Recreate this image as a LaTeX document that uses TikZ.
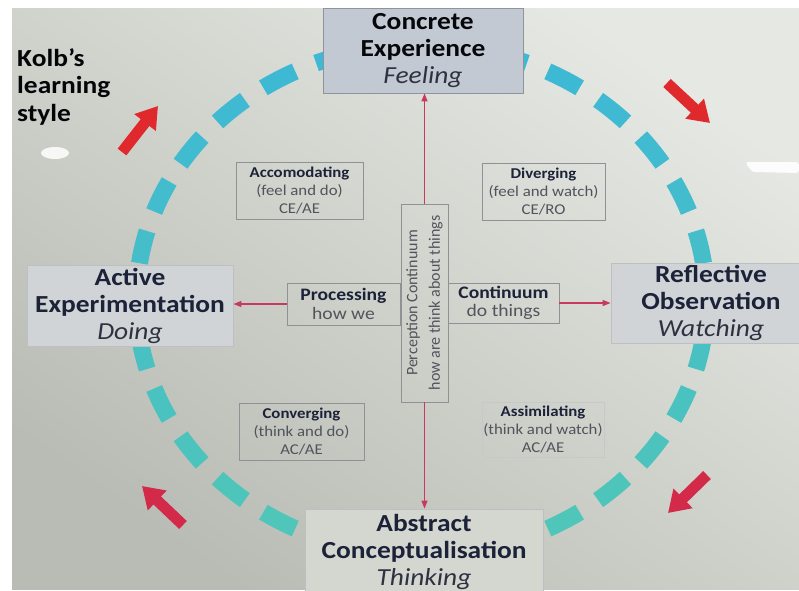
\documentclass[tikz,border=0pt]{standalone}
\usepackage{fontspec}
\setmainfont{Carlito}[FakeStretch=1.12]
\newfontfamily\uprightfont{Carlito}
\usetikzlibrary{arrows.meta}

\definecolor{bgtop}{HTML}{E6E8E3}
\definecolor{bgbot}{HTML}{B9BCB4}
\definecolor{ringcyan}{HTML}{3DB8D6}
\definecolor{ringteal}{HTML}{50C7B7}
\definecolor{linkred}{HTML}{C73A5D}
\definecolor{arrowred}{HTML}{E0292C}
\definecolor{arrowcrimson}{HTML}{D42A4A}
\definecolor{navy}{HTML}{1C2238}
\definecolor{ink}{HTML}{2E3240}
\definecolor{softink}{HTML}{50545C}
\definecolor{cefill}{HTML}{C3C9D2}
\definecolor{cedraw}{HTML}{8E949C}
\definecolor{sidefill}{HTML}{D0D4D7}
\definecolor{sidedraw}{HTML}{BCC0C3}
\definecolor{boxline}{HTML}{8E9295}

\newcommand\kolbital[1]{{\mdseries\itshape\color{ink}#1}}
\newcommand\kolbhead[1]{{\bfseries\color{navy}#1}}

\begin{document}
\begin{tikzpicture}[x=1pt,y=-1pt,
  stage/.style={draw=sidedraw, fill=sidefill, line width=0.8pt, text=navy,
    align=center, inner sep=0pt, font=\bfseries\fontsize{24.5}{27}\selectfont},
  mode/.style={draw=boxline, line width=0.8pt, align=center, text=softink,
    inner sep=0pt, font=\fontsize{15}{18}\selectfont},
  flow/.style={draw=boxline, line width=0.8pt, align=center, text=softink,
    inner sep=0pt, font=\fontsize{17.5}{18.5}\selectfont},
  link/.style={draw=linkred, line width=1.3pt, -{Triangle[length=8pt 0 0,width=6pt 0 0]}},
  turn/.style={line width=11pt, -{Triangle[length=21pt 0 0,width=26pt 0 0]}},
  ring/.style={line width=17pt, line cap=butt},
]
\useasboundingbox (0,0) rectangle (799,590);
\fill[white] (0,0) rectangle (799,590);
\shade[top color=bgtop, bottom color=bgbot, shading angle=-35] (12,8) rectangle (799,589);

% screen glare
\fill[white, opacity=0.85] (55,153) ellipse [x radius=14pt, y radius=6pt];
\fill[white, opacity=0.9, rounded corners=3pt] (745,162) -- (799,162) -- (799,173) -- (752,172) -- cycle;

% dashed learning cycle
\foreach \a in {0,12,...,348} {
  \pgfmathtruncatemacro\mix{50-50*sin(\a)}
  \draw[ring, color=ringcyan!\mix!ringteal]
    plot[domain=\a-3.7:\a+3.7, samples=10] ({421.5+285*cos(\x)}, {300+255*sin(\x)});
}

% direction arrows
\coordinate (t1) at (122,152); \coordinate (h1) at (158,106);
\coordinate (t2) at (667,83);  \coordinate (h2) at (710,123);
\coordinate (t3) at (707,475); \coordinate (h3) at (668,513);
\coordinate (t4) at (183,525); \coordinate (h4) at (142,486);
\draw[turn, draw=arrowred] (t1) -- (h1);
\draw[turn, draw=arrowred] (t2) -- (h2);
\draw[turn, draw=arrowcrimson] (t3) -- (h3);
\draw[turn, draw=arrowcrimson] (t4) -- (h4);

% title
\node[anchor=north west, align=left, inner sep=0pt, text=black!85!navy,
  font=\bfseries\fontsize{24.5}{27.5}\selectfont] (title) at (17,48) {Kolb’s\\learning\\style};

% the four stages
\node[stage, fill=cefill, draw=cedraw, text=black!80!navy, minimum width=200pt, minimum height=85pt]
  (ce) at (423,50.5) {Concrete\\Experience\\\kolbital{Feeling}};
\node[stage, minimum width=206pt, minimum height=81pt]
  (ae) at (130,305.5) {Active\\Experimentation\\\kolbital{Doing}};
\node[stage, minimum width=200pt, minimum height=80pt]
  (ro) at (711,303) {Reflective\\Observation\\\kolbital{Watching}};
\node[stage, fill=bgbot!40!bgtop, draw=sidedraw, minimum width=238pt, minimum height=85pt]
  (ac) at (424,551.5) {Abstract\\Conceptualisation\\\kolbital{Thinking}};

% the four styles
\node[mode, minimum width=127pt, minimum height=57pt] (acc) at (299.5,190.5)
  {\kolbhead{Accomodating}\\(feel and do)\\CE/AE};
\node[mode, minimum width=123pt, minimum height=57pt] (div) at (543.5,191.5)
  {\kolbhead{Diverging}\\(feel and watch)\\CE/RO};
\node[mode, minimum width=125pt, minimum height=57pt] (conv) at (301.5,431.5)
  {\kolbhead{Converging}\\(think and do)\\AC/AE};
\node[mode, draw=boxline!50, minimum width=122pt, minimum height=55pt] (assim) at (543,429.5)
  {\kolbhead{Assimilating}\\(think and watch)\\AC/AE};

% the two continua
\node[flow, minimum width=113pt, minimum height=42pt] (proc) at (343.5,304)
  {\kolbhead{Processing}\\how we};
\node[flow, minimum width=111pt, minimum height=40pt] (cont) at (503.5,303)
  {\kolbhead{Continuum}\\do things};
\node[draw=boxline, line width=0.8pt, minimum width=47pt, minimum height=198pt, inner sep=0pt]
  (perc) at (424.5,303) {};
\node[rotate=90, align=center, inner sep=0pt, text=softink,
  font=\uprightfont\fontsize{16}{22.5}\selectfont] (perctext) at (perc.center)
  {Perception Continuum\\how are think about things};

% connectors
\draw[link] (perc.north) -- (perc.north |- ce.south);
\draw[link] (perc.south) -- (perc.south |- ac.north);
\draw[link] (proc.west) -- (proc.west -| ae.east);
\draw[link] (cont.east) -- (cont.east -| ro.west);
\end{tikzpicture}
\end{document}
